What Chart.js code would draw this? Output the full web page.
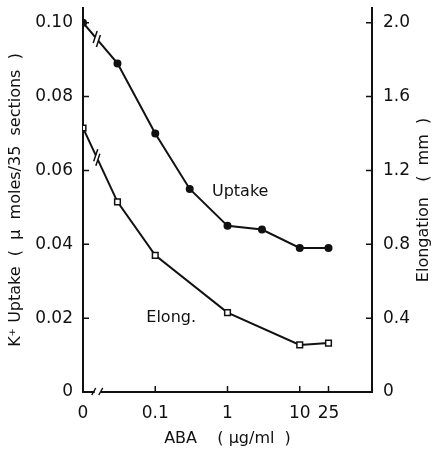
<!DOCTYPE html>
<html>
<head>
<meta charset="utf-8">
<script src="https://cdn.jsdelivr.net/npm/chart.js@4.4.0/dist/chart.umd.min.js"></script>
<style>
  html, body { margin: 0; padding: 0; background: #fff; }
  #wrap { width: 433px; height: 452px; }
</style>
</head>
<body>
<div id="wrap"><canvas id="c"></canvas></div>
<script>
/* ABA dose response: K+ uptake and elongation */
var uptakeDose = [0, 0.03, 0.1, 0.3, 1, 3, 10, 25];
var uptake     = [0.100, 0.089, 0.070, 0.055, 0.045, 0.044, 0.039, 0.039];
var elongDose  = [0, 0.03, 0.1, 1, 10, 25];
var elong      = [1.43, 1.03, 0.74, 0.43, 0.255, 0.265];
var xTicks     = [0, 0.1, 1, 10, 25];
var leftTicks  = [0, 0.02, 0.04, 0.06, 0.08, 0.10];
var rightTicks = [0, 0.4, 0.8, 1.2, 1.6, 2.0];

var ZERO_AT = 0.01;   // log axis: dose 0 sits at the origin, past the break
var FONT = 'DejaVu Sans';
var INK = '#111';

function xv(d) { return d === 0 ? ZERO_AT : d; }
function pts(xs, ys) { return xs.map(function (d, i) { return { x: xv(d), y: ys[i] }; }); }
function noPad(s) { s.paddingTop = 0; s.paddingBottom = 0; }

var marks = {
  id: 'marks',
  afterDraw: function (chart) {
    var ctx = chart.ctx, sx = chart.scales.x, sy = chart.scales.y, sr = chart.scales.y2;
    var a = chart.chartArea, TL = 6;
    ctx.save();
    ctx.strokeStyle = INK; ctx.lineWidth = 1.5;
    // inward tick marks
    ctx.beginPath();
    leftTicks.forEach(function (v) { if (!v) return; var y = sy.getPixelForValue(v); ctx.moveTo(a.left, y); ctx.lineTo(a.left + TL, y); });
    rightTicks.forEach(function (v) { if (!v) return; var y = sr.getPixelForValue(v); ctx.moveTo(a.right, y); ctx.lineTo(a.right - TL, y); });
    xTicks.forEach(function (v) { if (!v) return; var x = sx.getPixelForValue(v); ctx.moveTo(x, a.bottom); ctx.lineTo(x, a.bottom - TL); });
    ctx.stroke();

    // axis break on x
    var bx = sx.getPixelForValue(0.016);
    ctx.fillStyle = '#fff';
    ctx.fillRect(bx - 3, a.bottom - 3, 6, 6);
    ctx.beginPath();
    ctx.moveTo(bx - 6, a.bottom + 3); ctx.lineTo(bx - 2, a.bottom - 4);
    ctx.moveTo(bx + 1, a.bottom + 3); ctx.lineTo(bx + 5, a.bottom - 4);
    ctx.stroke();

    // line breaks between dose 0 and first dose
    [0, 1].forEach(function (di) {
      var m = chart.getDatasetMeta(di).data;
      var p0 = m[0], p1 = m[1];
      var t = 0.4, cx = p0.x + (p1.x - p0.x) * t, cy = p0.y + (p1.y - p0.y) * t;
      var dx = p1.x - p0.x, dy = p1.y - p0.y, L = Math.sqrt(dx * dx + dy * dy);
      var ux = dx / L, uy = dy / L;
      ctx.fillStyle = '#fff';
      ctx.beginPath(); ctx.arc(cx, cy, 2.5, 0, Math.PI * 2); ctx.fill();
      ctx.beginPath();
      [-2.5, 2.5].forEach(function (o) {
        var ox = cx + ux * o, oy = cy + uy * o;
        ctx.moveTo(ox - 2, oy + 6); ctx.lineTo(ox + 2, oy - 6);
      });
      ctx.stroke();
    });

    // curve labels
    ctx.fillStyle = INK;
    ctx.font = '16px "' + FONT + '"';
    ctx.textAlign = 'center'; ctx.textBaseline = 'middle';
    ctx.fillText('Uptake', sx.getPixelForValue(1.5), sy.getPixelForValue(0.0542));
    ctx.fillText('Elong.', sx.getPixelForValue(0.166), sr.getPixelForValue(0.40));

    // right axis title, reading upward
    ctx.save();
    ctx.translate(424, 200);
    ctx.rotate(-Math.PI / 2);
    ctx.font = '16px "' + FONT + '"';
    ctx.fillText('Elongation   (  mm  )', 0, 0);
    ctx.restore();
    ctx.restore();
  }
};

new Chart(document.getElementById('c'), {
  type: 'line',
  data: {
    datasets: [
      { label: 'Uptake', data: pts(uptakeDose, uptake), yAxisID: 'y',
        borderColor: INK, borderWidth: 2, pointStyle: 'circle', pointRadius: 3,
        pointBackgroundColor: INK, pointBorderColor: INK, tension: 0 },
      { label: 'Elong.', data: pts(elongDose, elong), yAxisID: 'y2',
        borderColor: INK, borderWidth: 2, pointStyle: 'rect', pointRadius: 4,
        pointBackgroundColor: '#fff', pointBorderColor: INK, pointBorderWidth: 1.5, tension: 0 }
    ]
  },
  options: {
    responsive: true, maintainAspectRatio: false, animation: false,
    layout: { padding: { top: 8, left: 0, right: 0, bottom: 0 } },
    plugins: { legend: { display: false }, tooltip: { enabled: false } },
    scales: {
      x: {
        type: 'logarithmic', min: ZERO_AT, max: 100,
        afterBuildTicks: function (s) { s.ticks = xTicks.map(function (v) { return { value: xv(v) }; }); },
        afterFit: function (s) { s.height = 60; s.paddingLeft = 0; s.paddingRight = 0; },
        ticks: { autoSkip: false, maxRotation: 0, padding: 11, color: INK, font: { family: FONT, size: 17 },
          callback: function (v, i) { return String(xTicks[i]); } },
        grid: { display: true, drawOnChartArea: false, drawTicks: false },
        border: { display: true, color: INK, width: 2 },
        title: { display: true, text: 'ABA    ( μg/ml  )', color: INK, font: { family: FONT, size: 16 }, padding: { top: 4, bottom: 4 } }
      },
      y: {
        position: 'left', min: 0, max: 0.104,
        afterBuildTicks: function (s) { s.ticks = leftTicks.map(function (v) { return { value: v }; }); },
        afterFit: function (s) { s.width = 83; noPad(s); },
        ticks: { padding: 10, color: INK, font: { family: FONT, size: 17 },
          callback: function (v) { return v === 0 ? '0' : v.toFixed(2); } },
        grid: { display: true, drawOnChartArea: false, drawTicks: false },
        border: { display: true, color: INK, width: 2 },
        title: { display: true, text: 'K⁺ Uptake  (  μ  moles/35  sections  )', color: INK, font: { family: FONT, size: 16 }, padding: { top: 6, bottom: 0 } }
      },
      y2: {
        position: 'right', min: 0, max: 2.08,
        afterBuildTicks: function (s) { s.ticks = rightTicks.map(function (v) { return { value: v }; }); },
        afterFit: function (s) { s.width = 61; noPad(s); },
        ticks: { padding: 11, color: INK, font: { family: FONT, size: 17 },
          callback: function (v) { return v === 0 ? '0' : v.toFixed(1); } },
        grid: { display: true, drawOnChartArea: false, drawTicks: false },
        border: { display: true, color: INK, width: 2 }
      }
    }
  },
  plugins: [marks]
});
</script>
</body>
</html>
